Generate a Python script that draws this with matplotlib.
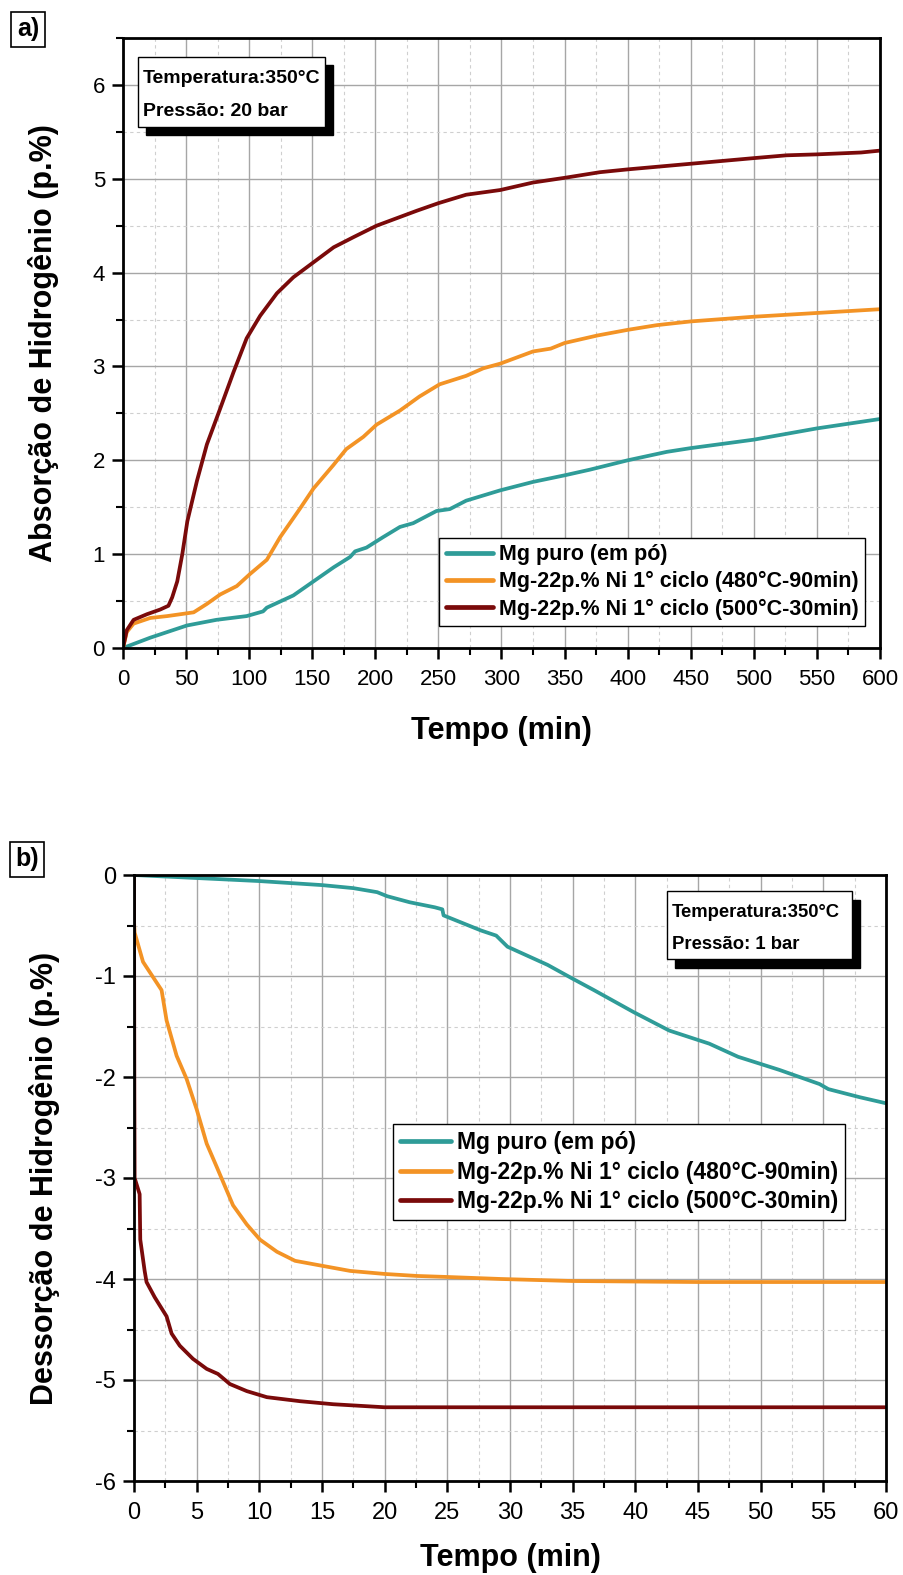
import matplotlib
matplotlib.use("Agg")
import matplotlib.pyplot as plt
from matplotlib.patches import Rectangle
from matplotlib.ticker import MultipleLocator

plt.rcParams['font.family'] = ['Liberation Sans', 'DejaVu Sans']
plt.rcParams['axes.unicode_minus'] = False

# ---------------- data: panel a (absorption) ----------------
labels = ["Mg puro (em pó)",
          "Mg-22p.% Ni 1° ciclo (480°C-90min)",
          "Mg-22p.% Ni 1° ciclo (500°C-30min)"]
colors = ["#2f9c98", "#f39325", "#7a0a0a"]

a_t_puro = [0, 21.6, 50.7, 74, 98, 111, 114, 135, 151, 167, 180, 184, 193, 206, 219.5, 230,
            248.5, 259, 272, 299, 325, 350, 370, 400, 431, 450, 500, 550, 600]
a_v_puro = [0, 0.11, 0.24, 0.30, 0.34, 0.39, 0.43, 0.56, 0.71, 0.86, 0.97, 1.03, 1.07, 1.18, 1.29, 1.33,
            1.46, 1.48, 1.57, 1.68, 1.77, 1.84, 1.90, 2.00, 2.09, 2.13, 2.22, 2.34, 2.44]

a_t_480 = [0, 3, 8.4, 21.6, 35, 56, 66.5, 77, 90.2, 100.8, 114, 124.5, 140, 151, 166.8, 177, 190.5,
           201, 219.5, 235, 251, 272, 285.5, 299, 325, 339, 350, 376, 400, 423, 450, 500, 550, 600]
a_v_480 = [0, 0.17, 0.26, 0.32, 0.34, 0.38, 0.47, 0.57, 0.66, 0.79, 0.94, 1.18, 1.48, 1.70, 1.95, 2.12, 2.25,
           2.38, 2.53, 2.68, 2.81, 2.90, 2.98, 3.03, 3.16, 3.19, 3.25, 3.33, 3.39, 3.44, 3.48, 3.53, 3.57, 3.61]

a_t_500 = [0, 3, 8.4, 19, 29.5, 36, 39, 43, 47, 51, 58.6, 66.5, 77, 87.6, 98, 108.7, 122, 135, 148,
           167, 183, 201, 233, 250, 272, 299, 325, 350, 378, 400, 450, 500, 526, 550, 585, 600]
a_v_500 = [0, 0.19, 0.30, 0.36, 0.41, 0.45, 0.54, 0.71, 1.00, 1.35, 1.78, 2.17, 2.55, 2.94, 3.30, 3.54, 3.78, 3.95, 4.08,
           4.27, 4.38, 4.50, 4.66, 4.74, 4.83, 4.88, 4.96, 5.01, 5.07, 5.10, 5.16, 5.22, 5.25, 5.26, 5.28, 5.30]

# ---------------- data: panel b (desorption) ----------------
b_t_puro = [0, 5, 10, 15, 17.5, 19.4, 20.2, 22, 24, 24.6, 24.7, 25.9, 27.7, 28.9, 29.8, 33, 34.9, 36.7,
            39.9, 42.7, 45.9, 48.2, 51.5, 54.7, 55.4, 57.9, 60]
b_v_puro = [0, -0.03, -0.06, -0.10, -0.13, -0.17, -0.21, -0.27, -0.32, -0.34, -0.40, -0.46, -0.55, -0.60, -0.71,
            -0.89, -1.02, -1.14, -1.36, -1.54, -1.67, -1.80, -1.93, -2.07, -2.12, -2.20, -2.26]

b_t_480 = [0, 0.05, 0.72, 2.2, 2.6, 3.4, 4.2, 5.0, 5.8, 6.6, 7.9, 9.0, 10.05, 11.4, 12.85, 14.6, 17.25,
           20, 22.6, 25, 29.3, 35, 45, 60]
b_v_480 = [-0.45, -0.57, -0.86, -1.14, -1.44, -1.79, -2.02, -2.32, -2.66, -2.89, -3.27, -3.46, -3.61, -3.73, -3.82,
           -3.86, -3.92, -3.95, -3.97, -3.98, -4.00, -4.02, -4.03, -4.03]

b_t_500 = [0, 0.03, 0.05, 0.45, 0.5, 0.85, 1.0, 1.65, 2.6, 3.0, 3.65, 4.7, 5.8, 6.7, 7.65, 9.0, 10.6,
           13.25, 15.9, 20, 25, 60]
b_v_500 = [0, -2.2, -3.0, -3.16, -3.61, -3.92, -4.03, -4.18, -4.37, -4.54, -4.66, -4.79, -4.89, -4.94, -5.04,
           -5.11, -5.17, -5.21, -5.24, -5.27, -5.27, -5.27]

fig = plt.figure(figsize=(9.04, 15.75), dpi=100)
W, H = 904, 1575
def ax_rect(l, r, t, b):
    return [l / W, 1 - b / H, (r - l) / W, (b - t) / H]

axA = fig.add_axes(ax_rect(123, 880, 38, 648))
axB = fig.add_axes(ax_rect(134, 886, 875, 1481))

def style(ax, xmaj, xmin, ymaj, ymin, tsize):
    ax.xaxis.set_major_locator(MultipleLocator(xmaj))
    ax.xaxis.set_minor_locator(MultipleLocator(xmin))
    ax.yaxis.set_major_locator(MultipleLocator(ymaj))
    ax.yaxis.set_minor_locator(MultipleLocator(ymin))
    ax.grid(True, which='major', color='#a6a6a6', lw=1.0, ls='-')
    ax.grid(True, which='minor', color='#cfcfcf', lw=0.8, ls=(0, (3, 3)))
    ax.set_axisbelow(True)
    for s in ax.spines.values():
        s.set_linewidth(2.0)
    ax.tick_params(which='major', direction='out', length=8, width=1.8, labelsize=tsize)
    ax.tick_params(axis='x', which='major', pad=7)
    ax.tick_params(axis='y', which='major', pad=5)
    ax.tick_params(which='minor', direction='out', length=5, width=1.5)
    ax.tick_params(top=False, right=False, which='both')

lw = 2.7
for ax, data in [(axA, [(a_t_puro, a_v_puro), (a_t_480, a_v_480), (a_t_500, a_v_500)]),
                 (axB, [(b_t_puro, b_v_puro), (b_t_480, b_v_480), (b_t_500, b_v_500)])]:
    for (t, v), c, lab in zip(data, colors, labels):
        ax.plot(t, v, color=c, lw=lw, label=lab, solid_capstyle='round', solid_joinstyle='round')

axA.set_xlim(0, 600)
axA.set_ylim(0, 6.5)
style(axA, 50, 25, 1, 0.5, 16)
axB.set_xlim(0, 60)
axB.set_ylim(-6, 0)
style(axB, 5, 2.5, 1, 0.5, 17)

for ax, yl, xly, yx in [(axA, "Absorção de Hidrogênio (p.%)", -(731 - 648) / 610, (44 - 123) / 757),
                        (axB, "Dessorção de Hidrogênio (p.%)", -(1558 - 1481) / 606, (44 - 134) / 752)]:
    ax.set_xlabel("Tempo (min)", fontsize=22, fontweight='bold')
    ax.set_ylabel(yl, fontsize=22, fontweight='bold')
    ax.xaxis.set_label_coords(0.5, xly)
    ax.xaxis.label.set_verticalalignment('center')
    ax.yaxis.set_label_coords(yx, 0.5)
    ax.yaxis.label.set_verticalalignment('center')

def make_legend(ax, anchor, size):
    leg = ax.legend(loc='lower right', bbox_to_anchor=anchor,
                    prop={'weight': 'bold', 'size': size}, frameon=True, fancybox=False,
                    edgecolor='black', framealpha=1, handlelength=2.2, handletextpad=0.25,
                    labelspacing=0.28, borderpad=0.3, borderaxespad=0)
    leg.get_frame().set_linewidth(1.0)
    for h in leg.get_lines():
        h.set_linewidth(3.4)
    return leg

make_legend(axA, (0.980, 0.036), 15.5)
make_legend(axB, (0.945, 0.431), 16.5)

def info_box(ax, x0, x1, y0, y1, dx, dy, lines, size):
    ax.add_patch(Rectangle((x0 + dx, y0 - dy), x1 - x0, y1 - y0, transform=ax.transAxes,
                           facecolor='black', edgecolor='black', zorder=5, clip_on=False))
    ax.add_patch(Rectangle((x0, y0), x1 - x0, y1 - y0, transform=ax.transAxes,
                           facecolor='white', edgecolor='black', lw=1.0, zorder=6, clip_on=False))
    fracs = [0.31, 0.78]
    for f, s in zip(fracs, lines):
        yy = y1 - (y1 - y0) * f
        ax.text(x0 + 0.006, yy, s, transform=ax.transAxes, fontsize=size, fontweight='bold',
                va='center', ha='left', zorder=7)

info_box(axA, (138 - 123) / 757, (325 - 123) / 757, (648 - 127) / 610, (648 - 57) / 610,
         8 / 757, 8 / 610, ["Temperatura:350°C", "Pressão: 20 bar"], 14)
info_box(axB, (667 - 134) / 752, (852 - 134) / 752, (1481 - 959) / 606, (1481 - 891) / 606,
         8 / 752, 8.5 / 606, ["Temperatura:350°C", "Pressão: 1 bar"], 13.3)

def panel_label(x, y, s):
    fig.text(x / W, 1 - y / H, s, fontsize=18, fontweight='bold', ha='center', va='center',
             bbox=dict(boxstyle='square,pad=0.22', facecolor='white', edgecolor='black', lw=1.2))

panel_label(28, 29, "a)")
panel_label(27, 859, "b)")

fig.savefig("out.png", dpi=100)
